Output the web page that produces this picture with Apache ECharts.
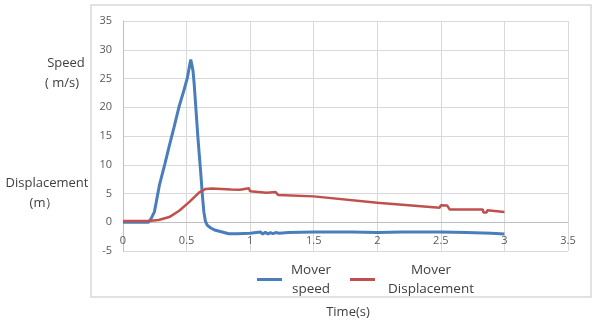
<!DOCTYPE html>
<html>
<head>
<meta charset="utf-8">
<script src="https://cdn.jsdelivr.net/npm/echarts@6/dist/echarts.min.js"></script>
<style>
  html, body { margin: 0; padding: 0; background: #fff; }
  #chart { width: 595px; height: 323px; }
</style>
</head>
<body>
<div id="chart"></div>
<script>
// values (time in s)
const speedTime = [0, 0.1, 0.2, 0.22, 0.247, 0.286, 0.33, 0.364, 0.40, 0.442, 0.48, 0.506, 0.52, 0.533, 0.543, 0.551, 0.56, 0.572, 0.59, 0.611, 0.625, 0.636, 0.648, 0.662, 0.69, 0.727, 0.78, 0.831, 0.9, 1.0, 1.08, 1.1, 1.12, 1.14, 1.16, 1.18, 1.2, 1.23, 1.3, 1.5, 1.8, 2.0, 2.2, 2.5, 2.7, 2.9, 3.0];
const speedValues = [0, 0, 0, 0.6, 1.8, 6.4, 10.2, 13.3, 16.4, 20.2, 23.0, 25.1, 26.8, 28.3, 27.2, 26.3, 24.0, 20.2, 14.5, 8.7, 4.5, 1.8, 0.2, -0.5, -1.0, -1.4, -1.7, -2.0, -2.0, -1.9, -1.7, -2.05, -1.75, -2.05, -1.8, -2.0, -1.8, -1.9, -1.8, -1.7, -1.7, -1.8, -1.7, -1.7, -1.8, -1.9, -2.05];

const dispTime = [0, 0.2, 0.28, 0.364, 0.442, 0.52, 0.6, 0.65, 0.7, 0.85, 0.92, 0.925, 0.99, 1.0, 1.13, 1.135, 1.2, 1.22, 1.5, 2.0, 2.49, 2.5, 2.55, 2.57, 2.69, 2.7, 2.83, 2.835, 2.86, 2.865, 3.0];
const dispValues = [0.2, 0.2, 0.4, 0.9, 2.0, 3.5, 5.2, 5.8, 5.85, 5.7, 5.65, 5.95, 5.9, 5.4, 5.15, 5.4, 5.25, 4.75, 4.5, 3.4, 2.54, 2.94, 2.9, 2.2, 2.2, 2.48, 2.2, 1.7, 1.7, 2.07, 1.8];

const seriesNames = ['Mover speed', 'Mover Displacement'];
const xTicks = { min: 0, max: 3.5, interval: 0.5 };
const yTicks = { min: -5, max: 35, interval: 5 };

const C_SPEED = '#4a7ebb';
const C_DISP = '#c0504d';
const FONT = '"Open Sans", "Noto Sans", sans-serif';

// plot box: 230 px high for -5..35, x axis sits on y = 0
const GRID = { left: 123, right: 27, top: 21, bottom: 72 };
const plotH = 323 - GRID.top - GRID.bottom;
const zeroOffset = -plotH * (0 - yTicks.min) / (yTicks.max - yTicks.min);

const zip = (xs, ys) => xs.map((x, i) => [x, ys[i]]);

const chart = echarts.init(document.getElementById('chart'));
chart.setOption({
  animation: false,
  textStyle: { fontFamily: FONT },
  grid: GRID,
  title: {
    text: 'Time(s)', left: 343, top: 301, textAlign: 'center',
    textStyle: { fontSize: 13, fontWeight: 'normal', color: '#404040', fontFamily: FONT },
  },
  legend: {
    left: 252, top: 258, itemGap: 18,
    icon: 'rect', itemWidth: 25, itemHeight: 3,
    data: seriesNames,
    formatter: name => {
      const [a, b] = [name.slice(0, 5), name.slice(6)];
      const key = name === seriesNames[0] ? 's' : 'd';
      return `{${key}|${a}}\n{${key}|${b}}`;
    },
    textStyle: {
      fontSize: 13.5, color: '#404040', fontFamily: FONT, padding: [0, 0, 0, 3],
      rich: {
        s: { width: 42, align: 'center', lineHeight: 19, fontSize: 13.5, color: '#404040' },
        d: { width: 96, align: 'center', lineHeight: 19, fontSize: 13.5, color: '#404040' },
      },
    },
  },
  xAxis: {
    type: 'value', ...xTicks,
    offset: zeroOffset,
    axisLine: { onZero: false, lineStyle: { color: '#bfbfbf', width: 1 } },
    axisTick: { show: false },
    axisLabel: { fontSize: 11, color: '#595959', margin: 13 },
    splitLine: { show: true, lineStyle: { color: '#d9d9d9', width: 1 } },
  },
  yAxis: {
    type: 'value', ...yTicks,
    axisLine: { show: true, lineStyle: { color: '#bfbfbf', width: 1 } },
    axisTick: { show: false },
    axisLabel: { fontSize: 11, color: '#595959', margin: 11 },
    splitLine: { show: true, lineStyle: { color: '#d9d9d9', width: 1 } },
  },
  graphic: [
    { type: 'rect', shape: { x: 91, y: 5, width: 500, height: 292 }, style: { fill: null, stroke: '#d9d9d9', lineWidth: 1.5 }, silent: true },
    { type: 'text', x: 66, y: 63, style: { text: 'Speed', font: `13px ${FONT}`, fill: '#404040', align: 'center', verticalAlign: 'middle' } },
    { type: 'text', x: 62, y: 83, style: { text: '( m/s)', font: `13px ${FONT}`, fill: '#404040', align: 'center', verticalAlign: 'middle' } },
    { type: 'text', x: 47, y: 183, style: { text: 'Displacement', font: `13px ${FONT}`, fill: '#404040', align: 'center', verticalAlign: 'middle' } },
    { type: 'text', x: 44, y: 203, style: { text: '(m）', font: `13px ${FONT}`, fill: '#404040', align: 'center', verticalAlign: 'middle' } },
  ],
  series: [
    {
      name: seriesNames[0], type: 'line', data: zip(speedTime, speedValues),
      symbol: 'none', lineStyle: { color: C_SPEED, width: 3 }, itemStyle: { color: C_SPEED },
    },
    {
      name: seriesNames[1], type: 'line', data: zip(dispTime, dispValues),
      symbol: 'none', lineStyle: { color: C_DISP, width: 2.5 }, itemStyle: { color: C_DISP },
    },
  ],
});
</script>
</body>
</html>
